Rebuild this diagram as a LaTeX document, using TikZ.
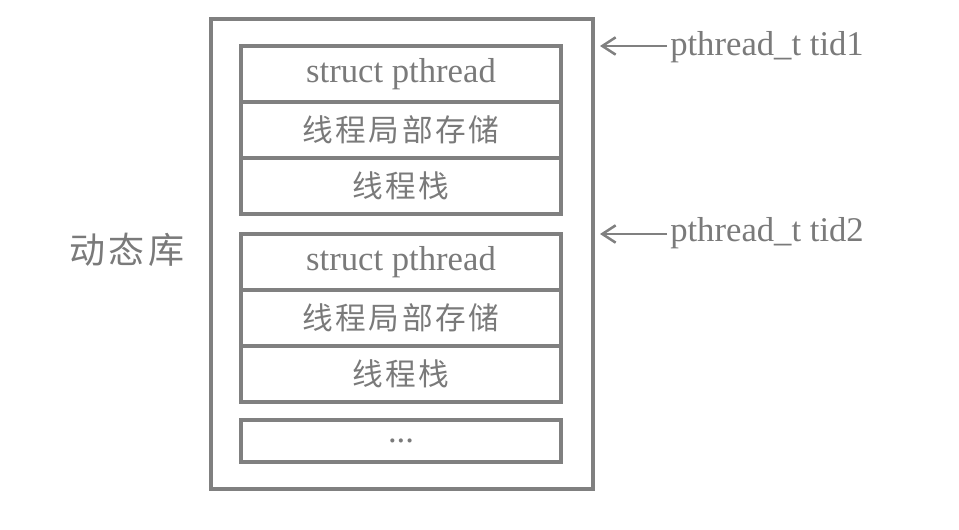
\documentclass[tikz,border=0pt]{standalone}
\usepackage{fontspec}
\setmainfont{Liberation Serif}
\newfontfamily\cjk{Noto Sans CJK SC}
\usetikzlibrary{arrows.meta}
\definecolor{line}{HTML}{808080}
\definecolor{ink}{HTML}{7A7A7A}

\begin{document}
\begin{tikzpicture}[x=0.75pt,y=-0.75pt,>={Straight Barb[length=10pt,width=13pt]},
cell/.style={draw=line,line width=2.4pt,minimum width=240pt,minimum height=42pt,inner sep=0pt,text=ink,font=\fontsize{26}{28}\selectfont},
zh/.style={cell,font=\cjk\fontsize{23}{26}\selectfont},
tag/.style={text=ink,anchor=west,inner sep=0pt,font=\fontsize{26}{28}\selectfont}]
  \useasboundingbox (0,0) rectangle (959,530);
  \node[draw=line,line width=2.4pt,minimum width=286.5pt,minimum height=352.5pt,inner sep=0pt] (lib) at (402,254) {};
  \node[text=ink,font=\cjk\fontsize{27}{29}\selectfont] (libname) at (127,250) {动\hspace{3pt}态\hspace{3pt}库};
  % first thread
  \node[cell] (s1) at (401,74) {struct pthread};
  \node[zh] (tls1) at (401,130) {线\hspace{2pt}程\hspace{2pt}局\hspace{2pt}部\hspace{2pt}存\hspace{2pt}储};
  \node[zh] (stk1) at (401,186) {线\hspace{2pt}程\hspace{2pt}栈};
  % second thread
  \node[cell] (s2) at (401,262) {struct pthread};
  \node[zh] (tls2) at (401,318) {线\hspace{2pt}程\hspace{2pt}局\hspace{2pt}部\hspace{2pt}存\hspace{2pt}储};
  \node[zh] (stk2) at (401,374) {线\hspace{2pt}程\hspace{2pt}栈};
  \node[cell,minimum height=31.5pt] (more) at (401,441) {...};
  % handles
  \node[tag] (tid1) at (670,47) {pthread\_t tid1};
  \node[tag] (tid2) at (670,233) {pthread\_t tid2};
  \coordinate (p1) at (600,46);
  \coordinate (p2) at (600,234);
  \draw[->,line,line width=1.9pt] (tid1.west|-p1) ++(-3,0) -- (p1);
  \draw[->,line,line width=1.9pt] (tid2.west|-p2) ++(-3,0) -- (p2);
\end{tikzpicture}
\end{document}
